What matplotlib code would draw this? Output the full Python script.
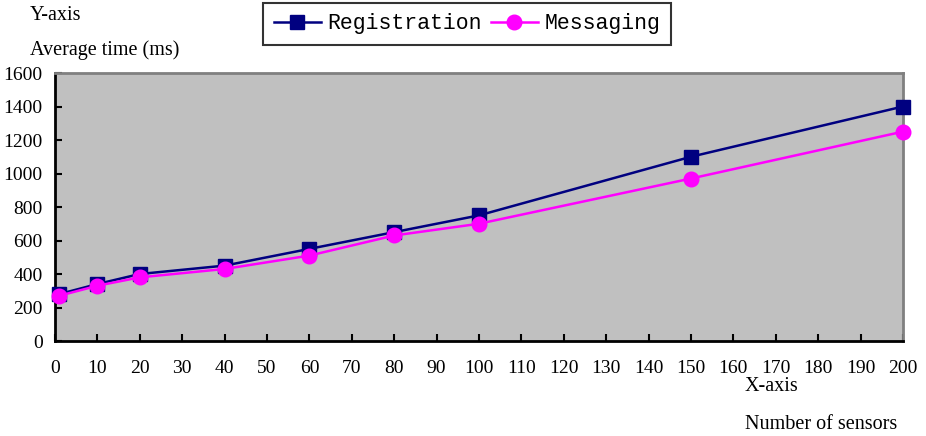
import matplotlib
matplotlib.use("Agg")
import matplotlib.pyplot as plt

x_vals = [1, 10, 20, 40, 60, 80, 100, 150, 200]
registration = [280, 340, 400, 450, 550, 650, 750, 1100, 1400]
messaging = [270, 330, 380, 430, 510, 630, 700, 970, 1250]
x_ticks = list(range(0, 201, 10))
y_ticks = list(range(0, 1601, 200))

serif = ["Liberation Serif", "DejaVu Serif"]
plt.rcParams["font.family"] = serif

fig = plt.figure(figsize=(9.26, 4.36), dpi=100)
ax = fig.add_axes([55/926, 95/436, (903-55)/926, (341-73)/436])
ax.set_facecolor("#c0c0c0")

ax.plot(x_vals, registration, color="#000080", marker="s", markersize=9.5,
        linewidth=1.8, label="Registration", clip_on=False, zorder=3)
ax.plot(x_vals, messaging, color="#ff00ff", marker="o", markersize=10.5,
        linewidth=1.8, label="Messaging", clip_on=False, zorder=4)

ax.set_xlim(0, 200)
ax.set_ylim(0, 1600)
ax.set_xticks(x_ticks)
ax.set_yticks(y_ticks)
ax.tick_params(direction="in", length=5, width=1.5, labelsize=14)
ax.tick_params(axis="x", pad=14)
ax.tick_params(axis="y", pad=9)
for s in ["left", "bottom"]:
    ax.spines[s].set_color("black")
    ax.spines[s].set_linewidth(2)
for s in ["top", "right"]:
    ax.spines[s].set_color("#808080")
    ax.spines[s].set_linewidth(2)

fs = 14.5
fig.text(30/926, 1 - 16/436, "Y-axis", fontsize=fs, va="center", ha="left")
fig.text(30/926, 1 - 50/436, "Average time (ms)", fontsize=fs, va="center", ha="left")
fig.text(771/926, 1 - 386/436, "X-axis", fontsize=fs, va="center", ha="center")
fig.text(821/926, 1 - 424/436, "Number of sensors", fontsize=fs, va="center", ha="center")

leg = fig.legend(loc="center", bbox_to_anchor=(467/926, 1 - 24/436), ncol=2,
                 frameon=True, fancybox=False, edgecolor="black",
                 prop={"family": ["Liberation Mono", "DejaVu Sans Mono"], "size": 15.5},
                 handlelength=2.2, handletextpad=0.3, columnspacing=0.4,
                 borderpad=0.5)
leg.get_frame().set_linewidth(1.5)

fig.savefig("out.png", dpi=100)
